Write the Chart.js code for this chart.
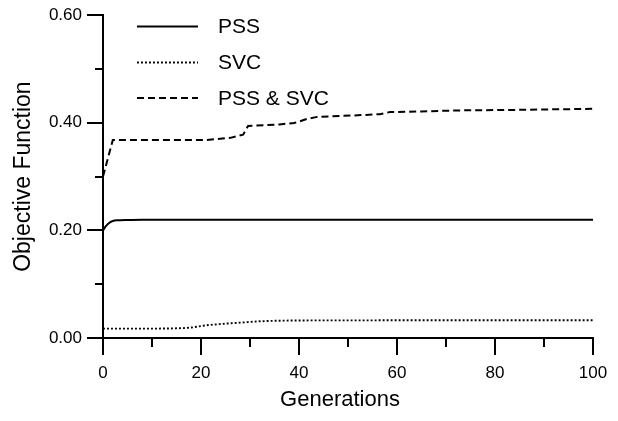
<!DOCTYPE html>
<html>
<head>
<meta charset="utf-8">
<style>
  html, body { margin: 0; padding: 0; background: #fff; }
  canvas { display: block; }
</style>
<script src="https://cdn.jsdelivr.net/npm/chart.js@4/dist/chart.umd.min.js"></script>
</head>
<body>
<canvas id="chart" width="618" height="421"></canvas>
<script>
// Objective function vs. generations for three controller set-ups
const seriesLabels = ['PSS', 'SVC', 'PSS & SVC'];

const pssGen = [0, 0.5, 1, 1.5, 2, 3, 5, 8, 100];
const pssVal = [0.200, 0.207, 0.212, 0.2155, 0.2175, 0.2188, 0.2195, 0.220, 0.220];

const svcGen = [0, 10, 15, 18, 21, 24, 28, 32, 39, 50, 100];
const svcVal = [0.0175, 0.0175, 0.018, 0.0195, 0.0235, 0.026, 0.0285, 0.031, 0.0325, 0.0328, 0.0330];

const bothGen = [0, 2, 15, 21, 26, 28.6, 29.6, 36, 39, 41.6, 43.7, 52, 56.5, 58.6, 65, 72, 84, 100];
const bothVal = [0.300, 0.368, 0.368, 0.368, 0.372, 0.378, 0.394, 0.397, 0.3995, 0.407, 0.411, 0.414, 0.416, 0.420, 0.421, 0.423, 0.424, 0.426];

const xTickStep = 20, xMinorTicks = [10, 30, 50, 70, 90];
const yTickStep = 0.2, yMinorTicks = [0.1, 0.3, 0.5];

const toPoints = (xs, ys) => xs.map((x, i) => ({ x: x, y: ys[i] }));
const FONT = '"Liberation Sans", Arial, sans-serif';

// Minor tick marks (shorter than the labelled ones)
const minorTicks = {
  id: 'minorTicks',
  afterDraw(chart) {
    const { ctx, chartArea, scales } = chart;
    ctx.save();
    ctx.strokeStyle = '#000';
    ctx.lineWidth = 2;
    ctx.beginPath();
    yMinorTicks.forEach(v => {
      const y = Math.round(scales.y.getPixelForValue(v));
      ctx.moveTo(chartArea.left - 8, y);
      ctx.lineTo(chartArea.left, y);
    });
    xMinorTicks.forEach(v => {
      const x = Math.round(scales.x.getPixelForValue(v));
      ctx.moveTo(x, chartArea.bottom);
      ctx.lineTo(x, chartArea.bottom + 9);
    });
    ctx.stroke();
    ctx.restore();
  }
};

// Line-sample legend in the upper left of the plot
const lineLegend = {
  id: 'lineLegend',
  afterDraw(chart) {
    const { ctx } = chart;
    const x0 = 137, x1 = 198, tx = 218, ys = [26.5, 62.5, 98];
    ctx.save();
    chart.data.datasets.forEach((ds, i) => {
      ctx.strokeStyle = ds.borderColor;
      ctx.lineWidth = ds.borderWidth;
      ctx.setLineDash(ds.borderDash || []);
      ctx.beginPath();
      ctx.moveTo(x0, ys[i]);
      ctx.lineTo(x1, ys[i]);
      ctx.stroke();
      ctx.setLineDash([]);
      ctx.fillStyle = '#000';
      ctx.font = '21px ' + FONT;
      ctx.textAlign = 'left';
      ctx.textBaseline = 'middle';
      ctx.fillText(ds.label, tx, ys[i] + 1);
    });
    ctx.restore();
  }
};

// Horizontal axis title
const xTitle = {
  id: 'xTitle',
  afterDraw(chart) {
    const { ctx, chartArea } = chart;
    ctx.save();
    ctx.fillStyle = '#000';
    ctx.font = '22px ' + FONT;
    ctx.textAlign = 'center';
    ctx.textBaseline = 'middle';
    ctx.fillText('Generations', (chartArea.left + chartArea.right) / 2 - 8, 400);
    ctx.restore();
  }
};

const axisGrid = {
  drawOnChartArea: false,
  drawTicks: true,
  lineWidth: 2,
  tickWidth: 2,
  tickColor: '#000'
};

new Chart(document.getElementById('chart'), {
  type: 'line',
  data: {
    datasets: [
      {
        label: seriesLabels[0],
        data: toPoints(pssGen, pssVal),
        borderColor: '#000',
        borderWidth: 2,
        cubicInterpolationMode: 'monotone'
      },
      {
        label: seriesLabels[1],
        data: toPoints(svcGen, svcVal),
        borderColor: '#000',
        borderWidth: 1.9,
        borderDash: [1.9, 2.1],
        cubicInterpolationMode: 'monotone'
      },
      {
        label: seriesLabels[2],
        data: toPoints(bothGen, bothVal),
        borderColor: '#000',
        borderWidth: 2,
        borderDash: [7, 4],
        tension: 0
      }
    ]
  },
  options: {
    responsive: false,
    animation: false,
    layout: { padding: { top: 14, right: 25, left: 0, bottom: 0 } },
    elements: { point: { radius: 0 } },
    plugins: { legend: { display: false }, tooltip: { enabled: false } },
    scales: {
      x: {
        type: 'linear',
        min: 0,
        max: 100,
        ticks: {
          stepSize: xTickStep,
          color: '#000',
          font: { family: FONT, size: 17 },
          padding: 8,
          maxRotation: 0
        },
        grid: Object.assign({}, axisGrid, { tickLength: 17 }),
        border: { display: true, color: '#000', width: 2 },
        afterFit(scale) { scale.height = 83; }
      },
      y: {
        min: 0,
        max: 0.6,
        ticks: {
          stepSize: yTickStep,
          color: '#000',
          font: { family: FONT, size: 17 },
          padding: 5,
          callback: v => v.toFixed(2)
        },
        grid: Object.assign({}, axisGrid, { tickLength: 16 }),
        border: { display: true, color: '#000', width: 2 },
        title: {
          display: true,
          text: 'Objective Function',
          color: '#000',
          font: { family: FONT, size: 23 },
          padding: { top: 10, bottom: 0 }
        },
        afterFit(scale) { scale.width = 103; }
      }
    }
  },
  plugins: [minorTicks, lineLegend, xTitle]
});
</script>
</body>
</html>
